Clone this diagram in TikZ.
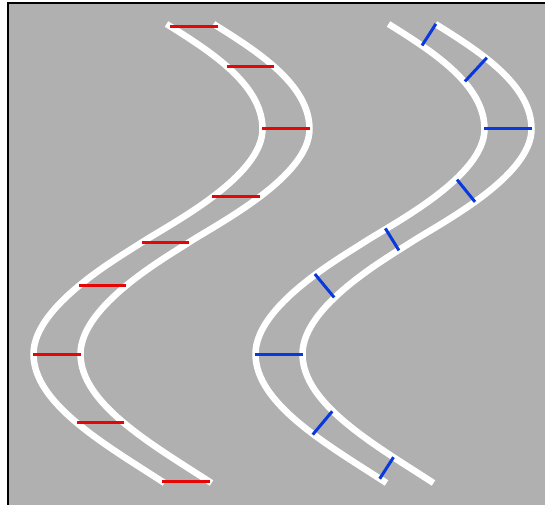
\documentclass[tikz,border=0pt]{standalone}
\usepackage{tikz}

\definecolor{tarmac}{RGB}{176,176,176}
\definecolor{rungred}{RGB}{230,6,6}
\definecolor{rungblue}{RGB}{8,56,222}

% centre line of one S bend; the four arguments go after its four segments
\newcommand{\sbend}[4]{(190,480) .. controls (232.4,453.5) and (286,420) .. (286,375) #1
  .. controls (286,327) and (193.2,279.7) .. (165.5,261.7) #2
  .. controls (142.2,246.5) and (57,198.3) .. (57,150) #3
  .. controls (57,100) and (129.3,59.1) .. (188,21) #4}

\begin{document}
\begin{tikzpicture}[x=1pt, y=1pt,
    roadline/.style={draw=white, line width=6.5},
    holder/.style={inner sep=0pt, outer sep=0pt, minimum width=0pt, minimum height=0pt},
    redholder/.style={holder, minimum width=47.5},
    blueholder/.style={holder, sloped, minimum height=#1},
    redrung/.style={draw=rungred, line width=3},
    bluerung/.style={draw=rungblue, line width=3},
]
\useasboundingbox (0,0) rectangle (545,504);

% frame
\draw[fill=tarmac, line width=2] (8.3,500.5) rectangle (546.3,-1.9);

% left road
\foreach \dx in {-23.5,23.5}
  \draw[roadline, xshift=\dx] \sbend{}{}{}{};

% right road
\foreach \dx in {198.5,245.5}
  \draw[roadline, xshift=\dx] \sbend{}{}{}{};

% horizontal rungs on the left road
\path \sbend
  {node[redholder, pos=0.03] (r1) {} node[redholder, pos=0.47] (r2) {} node[redholder, pos=1] (r3) {}}
  {node[redholder, pos=0.5] (r4) {} node[redholder, pos=1] (r5) {}}
  {node[redholder, pos=0.5] (r6) {} node[redholder, pos=1] (r7) {}}
  {node[redholder, pos=0.5] (r8) {} node[redholder, pos=0.99] (r9) {}};
\foreach \i in {1,...,9}
  \draw[redrung] (r\i.west) -- (r\i.east);

% perpendicular rungs on the right road
\path[xshift=222] \sbend
  {node[blueholder=25.7, pos=0.13] (b1) {} node[blueholder=32.3, pos=0.5] (b2) {} node[blueholder=47.5, pos=1] (b3) {}}
  {node[blueholder=28.6, pos=0.45] (b4) {} node[blueholder=25.9, pos=0.95] (b5) {}}
  {node[blueholder=30.3, pos=0.5] (b6) {} node[blueholder=47.5, pos=1] (b7) {}}
  {node[blueholder=30.4, pos=0.5] (b8) {} node[blueholder=25.6, pos=0.87] (b9) {}};
\foreach \i in {1,...,9}
  \draw[bluerung] (b\i.north) -- (b\i.south);

\end{tikzpicture}
\end{document}
